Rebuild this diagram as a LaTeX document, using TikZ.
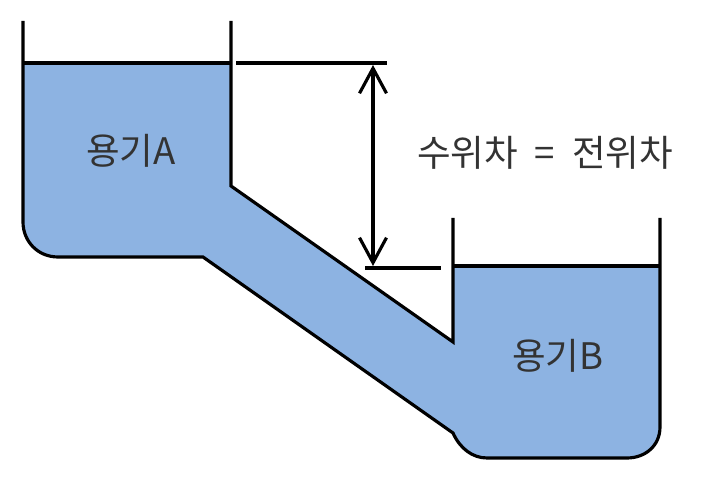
\documentclass[tikz,border=0pt]{standalone}
\usepackage{fontspec}
\setmainfont{Noto Sans CJK KR}
\usetikzlibrary{arrows.meta}
\definecolor{wasser}{HTML}{8DB3E2}
\tikzset{
	wand/.style={line width=1.8pt},
	mass/.style={line width=1.8pt},
	beschrift/.style={font=\fontsize{20.8}{25}\selectfont,text=black!80,inner sep=0pt}
}
\begin{document}
\begin{tikzpicture}
	\useasboundingbox (0,0) rectangle (14.16,10.02);

	\fill [wasser] (0.46,8.76) -- (4.62,8.76) -- (4.62,6.3) -- (9.06,3.18) -- (9.06,4.7) -- (13.2,4.7) -- (13.2,1.48) .. controls (13.2,1.1) and (12.9,0.86) .. (12.54,0.86) -- (9.74,0.86) .. controls (9.45,0.86) and (9.2,1.05) .. (9.06,1.36) -- (4.06,4.88) -- (1.16,4.88) .. controls (0.75,4.88) and (0.46,5.2) .. (0.46,5.58) -- cycle;%Wasser

	\draw [wand] (0.46,9.6) -- (0.46,5.58) .. controls (0.46,5.2) and (0.75,4.88) .. (1.16,4.88) -- (4.06,4.88) -- (9.06,1.36) .. controls (9.2,1.05) and (9.45,0.86) .. (9.74,0.86) -- (12.54,0.86) .. controls (12.9,0.86) and (13.2,1.1) .. (13.2,1.48) -- (13.2,5.66);%Aussenwand
	\draw [wand] (4.62,9.6) -- (4.62,6.3) -- (9.06,3.18) -- (9.06,5.66);%Innenwand
	\draw [wand] (0.46,8.76) -- (4.62,8.76);%Pegel A
	\draw [wand] (9.06,4.7) -- (13.2,4.7);%Pegel B

	\coordinate (obenL) at (4.72,8.76);
	\coordinate (obenR) at (7.74,8.76);
	\coordinate (untenL) at (7.3,4.66);
	\coordinate (untenR) at (8.82,4.66);
	\coordinate (pfeilO) at (7.46,8.72);
	\coordinate (pfeilU) at (7.46,4.7);
	\draw [mass] (obenL) -- (obenR);
	\draw [mass] (untenL) -- (untenR);
	\draw [mass,{Straight Barb[length=5mm,width=5.4mm]}-{Straight Barb[length=5mm,width=5.4mm]}] (pfeilO) -- (pfeilU);

	\node[beschrift] (behA) at (2.62,7) {용기A};
	\node[beschrift] (behB) at (11.16,2.9) {용기B};
	\node[beschrift] (diff) at (10.9,6.96) {수위차\hspace{5pt} = \hspace{5pt}전위차};

\end{tikzpicture}
\end{document}
